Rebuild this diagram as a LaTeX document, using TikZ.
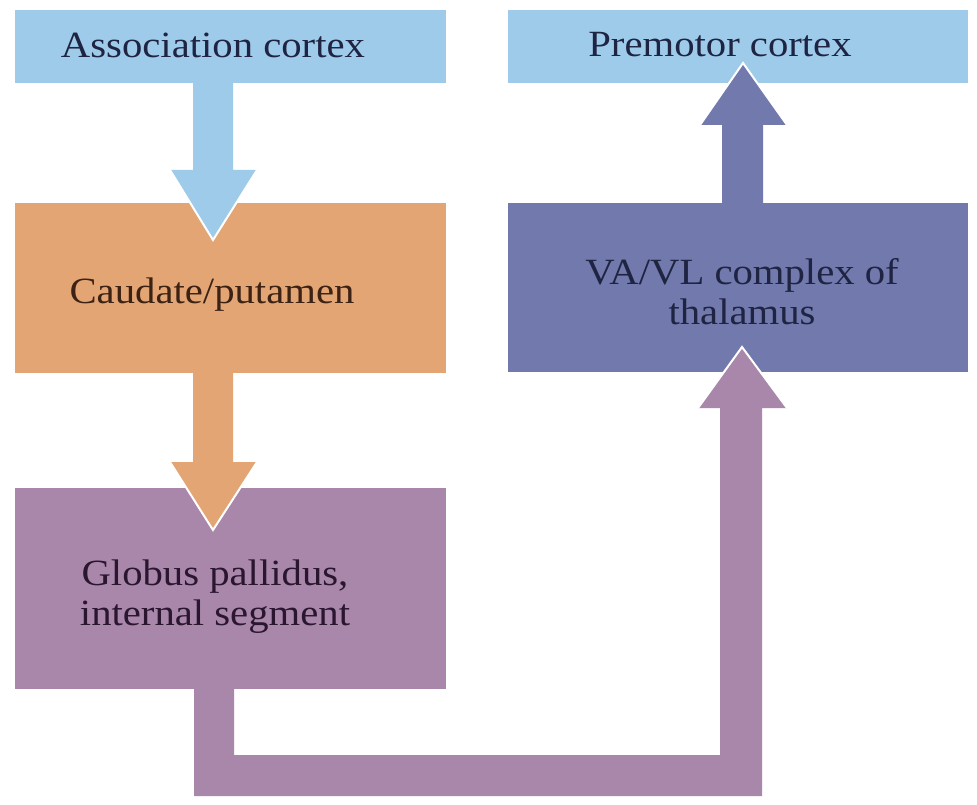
\documentclass[tikz,border=0pt]{standalone}
\usepackage{fontspec}
\setmainfont[FakeStretch=1.1]{Liberation Serif}
\usetikzlibrary{calc}
\definecolor{cblue}{HTML}{9FCBEB}
\definecolor{corange}{HTML}{E3A573}
\definecolor{cslate}{HTML}{7179AD}
\definecolor{cpurple}{HTML}{A987AB}
\definecolor{ctext}{HTML}{1E2442}
\definecolor{ctextbrown}{HTML}{3B2214}
\definecolor{ctextpurple}{HTML}{2B1630}
\begin{document}
\begin{tikzpicture}[x=1pt,y=-1pt,
  box/.style={rectangle, inner sep=0pt, outer sep=0pt, anchor=north west},
  lbl/.style={font=\fontsize{37}{40}\selectfont, text=ctext, align=center, inner sep=0pt},
  tipedge/.style={draw=white, line width=2pt, line join=miter}]
\useasboundingbox (0,0) rectangle (977,805);
\fill[white] (0,0) rectangle (977,805);
% boxes
\node[box, fill=cblue, minimum width=431pt, minimum height=73pt] (assoc) at (15,10) {};
\node[box, fill=cblue, minimum width=460pt, minimum height=73pt] (premotor) at (508,10) {};
\node[box, fill=corange, minimum width=431pt, minimum height=170pt] (caudate) at (15,203) {};
\node[box, fill=cslate, minimum width=460pt, minimum height=169pt] (vavl) at (508,203) {};
\node[box, fill=cpurple, minimum width=431pt, minimum height=201pt] (globus) at (15,488) {};
% arrows
\fill[cblue] (193,0 |- assoc.south) -- (193,170) -- (170,170) -- (213,240) -- (257,170) -- (233,170) -- (233,0 |- assoc.south) -- cycle;
\draw[tipedge] (170,170) -- (213,240) -- (257,170);
\fill[corange] (193,0 |- caudate.south) -- (193,462) -- (170,462) -- (213,530) -- (257,462) -- (233,462) -- (233,0 |- caudate.south) -- cycle;
\draw[tipedge] (170,462) -- (213,530) -- (257,462);
\fill[cslate] (722,0 |- vavl.north) -- (722,125) -- (700,125) -- (743,63) -- (787,125) -- (763,125) -- (763,0 |- vavl.north) -- cycle;
\draw[tipedge] (700,125) -- (743,63) -- (787,125);
\fill[cpurple] (194,0 |- globus.south) -- (194,796) -- (762,796) -- (762,408) -- (787,408) -- (742,347) -- (698,408) -- (720,408) -- (720,755) -- (234,755) -- (234,0 |- globus.south) -- cycle;
\draw[tipedge] (698,408) -- (742,347) -- (787,408);
% labels
\node[lbl] (assocT) at (213,45) {Association cortex};
\node[lbl] (premT) at (720,45) {Premotor cortex};
\node[lbl, text=ctextbrown] (caudT) at (212,295) {Caudate/putamen};
\node[lbl] (vavlT) at (742,292) {VA/VL complex of\\thalamus};
\node[lbl, text=ctextpurple] (globT) at (215,597) {Globus pallidus,\\internal segment};
\end{tikzpicture}
\end{document}
